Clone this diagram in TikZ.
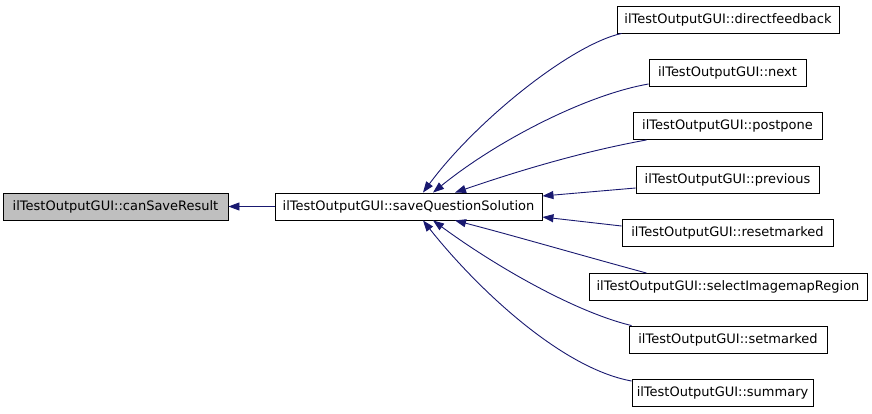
\documentclass[tikz,border=0pt]{standalone}
\usepackage{fontspec}
\setmainfont{DejaVu Sans}
\usetikzlibrary{arrows.meta}
\definecolor{edgeblue}{HTML}{191970}
\definecolor{boxgray}{HTML}{BFBFBF}
\tikzset{
  fn/.style={draw=black, line width=0.9pt, fill=white, inner sep=0pt, minimum height=27pt, font=\fontsize{13}{15}\selectfont},
  edge/.style={draw=edgeblue, line width=0.9pt, -{Triangle[length=11pt,width=8pt]}},
}
\begin{document}
\begin{tikzpicture}[x=1pt,y=-1pt]
\useasboundingbox (0,0) rectangle (872,413);
\node[fn, fill=boxgray, minimum width=225pt] (csr) at (115.5,206.5) {ilTestOutputGUI::canSaveResult};
\node[fn, minimum width=267pt] (sqs) at (408.5,206.5) {ilTestOutputGUI::saveQuestionSolution};
\node[fn, minimum width=222pt] (df) at (728,19.5) {ilTestOutputGUI::directfeedback};
\node[fn, minimum width=157pt] (nx) at (727.5,73) {ilTestOutputGUI::next};
\node[fn, minimum width=189pt] (pp) at (727.5,126) {ilTestOutputGUI::postpone};
\node[fn, minimum width=183pt] (pv) at (727.5,179.5) {ilTestOutputGUI::previous};
\node[fn, minimum width=211pt] (rm) at (727.5,233) {ilTestOutputGUI::resetmarked};
\node[fn, minimum width=278pt] (sir) at (728,287) {ilTestOutputGUI::selectImagemapRegion};
\node[fn, minimum width=198pt] (sm) at (728,339.5) {ilTestOutputGUI::setmarked};
\node[fn, minimum width=181pt] (su) at (722.5,393) {ilTestOutputGUI::summary};

\draw[edge] (sqs.west) -- (csr.east);
\draw[edge] ([xshift=5pt]df.south west) .. controls (570,45) and (475,122) .. ([xshift=14.5pt]sqs.north);
\draw[edge] ([yshift=-11pt]nx.west) .. controls (585,95) and (495,142) .. ([xshift=24.5pt]sqs.north);
\draw[edge] ([xshift=14pt]pp.south west) .. controls (580,152) and (515,172) .. ([xshift=46.5pt]sqs.north);
\draw[edge] ([yshift=-8.5pt]pv.west) -- ([yshift=10.5pt]sqs.east);
\draw[edge] ([yshift=7pt]rm.west) -- ([yshift=-10.5pt]sqs.east);
\draw[edge] ([xshift=58pt]sir.north west) .. controls (580,255) and (515,236) .. ([xshift=46.5pt]sqs.south);
\draw[edge] ([xshift=3pt]sm.north west) .. controls (575,312) and (495,266) .. ([xshift=24.5pt]sqs.south);
\draw[edge] ([yshift=12pt]su.west) .. controls (560,368) and (475,286) .. ([xshift=14.5pt]sqs.south);
\end{tikzpicture}
\end{document}
